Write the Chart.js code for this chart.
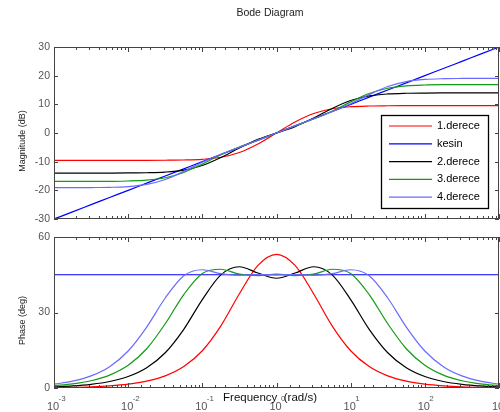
<!DOCTYPE html>
<html>
<head>
<meta charset="utf-8">
<title>Bode Diagram</title>
<script src="https://cdn.jsdelivr.net/npm/chart.js@4.4.0/dist/chart.umd.min.js"></script>
<style>
    html, body { margin: 0; padding: 0; background: #fff; }
    #wrap { position: relative; width: 500px; height: 412px; overflow: hidden; }
    #magChart { position: absolute; left: 0; top: 0; }
    #phaseChart { position: absolute; left: 0; top: 225px; }
</style>
</head>
<body>
<div id="wrap">
    <canvas id="magChart" width="500" height="232"></canvas>
    <canvas id="phaseChart" width="500" height="187"></canvas>
</div>
<script>
// frequency points (rad/s), quarter decade apart
var freq = [0.001, 0.001778, 0.003162, 0.005623, 0.01, 0.01778, 0.03162, 0.05623,
    0.1, 0.1778, 0.3162, 0.5623, 1, 1.778, 3.162, 5.623,
    10, 17.78, 31.62, 56.23, 100, 177.8, 316.2, 562.3, 1000];

var seriesNames = ['1.derece', 'kesin', '2.derece', '3.derece', '4.derece'];
var seriesColors = ['#ff0000', '#0000ff', '#000000', '#129a12', '#6a6aff'];

// magnitude (dB)
var mag1 = [-9.54, -9.54, -9.54, -9.54, -9.54, -9.53, -9.50, -9.42, -9.17, -8.47, -6.80, -3.84, 0,
    3.84, 6.80, 8.47, 9.17, 9.42, 9.50, 9.53, 9.54, 9.54, 9.54, 9.54, 9.54];
var magKesin = [-30, -27.5, -25, -22.5, -20, -17.5, -15, -12.5, -10, -7.5, -5, -2.5, 0,
    2.5, 5, 7.5, 10, 12.5, 15, 17.5, 20, 22.5, 25, 27.5, 30];
var mag2 = [-13.98, -13.98, -13.98, -13.97, -13.94, -13.86, -13.62, -12.94, -11.34, -8.57, -5.21, -2.24, 0,
    2.24, 5.21, 8.57, 11.34, 12.94, 13.62, 13.86, 13.94, 13.97, 13.98, 13.98, 13.98];
var mag3 = [-16.90, -16.90, -16.88, -16.85, -16.75, -16.45, -15.61, -13.77, -10.85, -7.61, -4.87, -2.52, 0,
    2.52, 4.87, 7.61, 10.85, 13.77, 15.61, 16.45, 16.75, 16.85, 16.88, 16.90, 16.90];
var mag4 = [-19.08, -19.07, -19.03, -18.95, -18.68, -17.93, -16.21, -13.40, -10.19, -7.41, -5.00, -2.50, 0,
    2.50, 5.00, 7.41, 10.19, 13.40, 16.21, 17.93, 18.68, 18.95, 19.03, 19.07, 19.08];

// phase (deg)
var ph1 = [0.15, 0.27, 0.48, 0.86, 1.53, 2.71, 4.82, 8.51, 14.79, 24.69, 37.46, 48.72, 53.13,
    48.72, 37.46, 24.69, 14.79, 8.51, 4.82, 2.71, 1.53, 0.86, 0.48, 0.27, 0.15];
var phKesin = [45, 45, 45, 45, 45, 45, 45, 45, 45, 45, 45, 45, 45,
    45, 45, 45, 45, 45, 45, 45, 45, 45, 45, 45, 45];
var ph2 = [0.46, 0.81, 1.45, 2.57, 4.57, 8.06, 14.01, 23.32, 35.14, 44.96, 48.17, 45.69, 43.60,
    45.69, 48.17, 44.96, 35.14, 23.32, 14.01, 8.06, 4.57, 2.57, 1.45, 0.81, 0.46];
var ph3 = [0.92, 1.63, 2.89, 5.13, 9.04, 15.60, 25.52, 37.14, 45.49, 47.19, 45.22, 44.67, 45.24,
    44.67, 45.22, 47.19, 45.49, 37.14, 25.52, 15.60, 9.04, 5.13, 2.89, 1.63, 0.92];
var ph4 = [1.52, 2.71, 4.81, 8.48, 14.69, 24.21, 35.76, 44.59, 46.99, 45.45, 44.78, 45.06, 44.96,
    45.06, 44.78, 45.45, 46.99, 44.59, 35.76, 24.21, 14.69, 8.48, 4.81, 2.71, 1.52];

var magTicks = { min: -30, max: 30, step: 10 };
var phaseTicks = { min: 0, max: 60, step: 30 };

Chart.defaults.font.family = '"Liberation Sans", Arial, sans-serif';

function makeDatasets(values) {
    return values.map(function (v, i) {
        return {
            label: seriesNames[i],
            data: v.map(function (y, k) { return { x: freq[k], y: y }; }),
            borderColor: seriesColors[i],
            borderWidth: 1.2,
            pointRadius: 0,
            fill: false,
            cubicInterpolationMode: 'monotone',
            order: values.length - i
        };
    });
}

function isDecade(v) {
    var l = Math.log10(v);
    return Math.abs(l - Math.round(l)) < 1e-6;
}

// box, inward ticks and the extra texts in matlab style
var bodeFrame = {
    id: 'bodeFrame',
    afterDraw: function (chart, args, opts) {
        var ctx = chart.ctx, a = chart.chartArea;
        var xs = chart.scales.x, ys = chart.scales.y;
        ctx.save();
        ctx.strokeStyle = '#444';
        ctx.lineWidth = 1;
        ctx.beginPath();
        xs.ticks.forEach(function (t) {
            var px = Math.round(xs.getPixelForValue(t.value)) + 0.5;
            var len = isDecade(t.value) ? 5 : 3;
            ctx.moveTo(px, a.top); ctx.lineTo(px, a.top + len);
            ctx.moveTo(px, a.bottom); ctx.lineTo(px, a.bottom - len);
        });
        ys.ticks.forEach(function (t) {
            var py = Math.round(ys.getPixelForValue(t.value)) + 0.5;
            ctx.moveTo(a.left, py); ctx.lineTo(a.left + 4, py);
            ctx.moveTo(a.right, py); ctx.lineTo(a.right - 4, py);
        });
        ctx.stroke();
        ctx.strokeRect(a.left + 0.5, a.top + 0.5, a.right - a.left - 1, a.bottom - a.top - 1);

        // y axis title
        ctx.fillStyle = '#222';
        ctx.font = '9px "Liberation Sans", Arial, sans-serif';
        ctx.textAlign = 'center';
        ctx.textBaseline = 'middle';
        ctx.save();
        ctx.translate(23, (a.top + a.bottom) / 2 + 8);
        ctx.rotate(-Math.PI / 2);
        ctx.fillText(opts.yTitle, 0, 0);
        ctx.restore();

        if (opts.title) {
            ctx.font = '10.5px "Liberation Sans", Arial, sans-serif';
            ctx.fillText(opts.title, 270, 13);
        }

        if (opts.legend) {
            var lx = 381, ly = 115, lw = 107, lh = 93;
            ctx.fillStyle = '#fff';
            ctx.fillRect(lx, ly, lw, lh);
            ctx.strokeStyle = '#000';
            ctx.lineWidth = 1.3;
            ctx.strokeRect(lx + 0.5, ly + 0.5, lw, lh);
            ctx.font = '11px "Liberation Sans", Arial, sans-serif';
            ctx.textAlign = 'left';
            chart.data.datasets.forEach(function (ds, i) {
                var yy = ly + 11 + i * 17.8;
                ctx.strokeStyle = ds.borderColor;
                ctx.lineWidth = 1.2;
                ctx.beginPath();
                ctx.moveTo(389, yy); ctx.lineTo(432, yy);
                ctx.stroke();
                ctx.fillStyle = '#000';
                ctx.fillText(ds.label, 437, yy);
            });
        }

        if (opts.xLabels) {
            ctx.textBaseline = 'middle';
            xs.ticks.forEach(function (t) {
                if (!isDecade(t.value)) return;
                var px = xs.getPixelForValue(t.value);
                ctx.fillStyle = '#555';
                ctx.textAlign = 'center';
                ctx.font = '11px "Liberation Sans", Arial, sans-serif';
                ctx.fillText('10', px - 1, a.bottom + 18.5);
                ctx.textAlign = 'left';
                ctx.font = '8px "Liberation Sans", Arial, sans-serif';
                ctx.fillText(String(Math.round(Math.log10(t.value))), px + 4.5, a.bottom + 10.5);
            });
            ctx.fillStyle = '#111';
            ctx.textAlign = 'center';
            ctx.font = '11.5px "Liberation Sans", Arial, sans-serif';
            ctx.fillText('Frequency  (rad/s)', 270, a.bottom + 9.5);
        }
        ctx.restore();
    }
};

function makeOptions(range, pad, xHeight, frameOpts) {
    return {
        responsive: false,
        animation: false,
        devicePixelRatio: 1,
        layout: { padding: { top: pad, left: 0, right: 1, bottom: 0 } },
        plugins: {
            legend: { display: false },
            tooltip: { enabled: false },
            bodeFrame: frameOpts
        },
        scales: {
            x: {
                type: 'logarithmic',
                min: 0.001,
                max: 1000,
                ticks: { display: false },
                grid: { display: false, drawTicks: false },
                border: { display: false },
                afterFit: function (scale) { scale.height = xHeight; }
            },
            y: {
                min: range.min,
                max: range.max,
                ticks: { stepSize: range.step, color: '#555', font: { size: 10.5 }, padding: 4 },
                grid: { display: false, drawTicks: false },
                border: { display: false },
                afterFit: function (scale) { scale.width = 54; }
            }
        }
    };
}

var magChart = new Chart(document.getElementById('magChart').getContext('2d'), {
    type: 'line',
    data: { datasets: makeDatasets([mag1, magKesin, mag2, mag3, mag4]) },
    options: makeOptions(magTicks, 47, 13, { yTitle: 'Magnitude (dB)', title: 'Bode Diagram', legend: true }),
    plugins: [bodeFrame]
});

var phaseChart = new Chart(document.getElementById('phaseChart').getContext('2d'), {
    type: 'line',
    data: { datasets: makeDatasets([ph1, phKesin, ph2, ph3, ph4]) },
    options: makeOptions(phaseTicks, 12, 24, { yTitle: 'Phase (deg)', xLabels: true }),
    plugins: [bodeFrame]
});
</script>
</body>
</html>
